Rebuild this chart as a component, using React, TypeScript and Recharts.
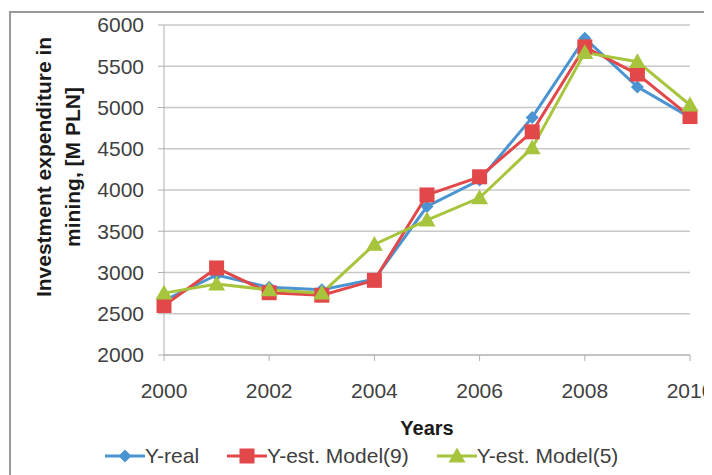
import { CartesianGrid, Label, Legend, Line, LineChart, XAxis, YAxis } from 'recharts';

const years = [2000, 2001, 2002, 2003, 2004, 2005, 2006, 2007, 2008, 2009, 2010];
const yReal = [2660, 2970, 2820, 2790, 2920, 3800, 4120, 4880, 5840, 5250, 4880];
const yModel9 = [2600, 3055, 2755, 2725, 2905, 3940, 4160, 4705, 5735, 5405, 4890];
const yModel5 = [2750, 2860, 2790, 2750, 3340, 3635, 3905, 4510, 5665, 5555, 5030];
const xTicks = [2000, 2002, 2004, 2006, 2008, 2010];
const yTicks = [2000, 2500, 3000, 3500, 4000, 4500, 5000, 5500, 6000];

const BLUE = '#4a94d2';
const RED = '#e2474a';
const GREEN = '#a6c53c';
const FONT = '"Liberation Sans Narrow", "Liberation Sans", sans-serif';

const data = years.map((year, i) => ({
  year,
  real: yReal[i],
  m9: yModel9[i],
  m5: yModel5[i],
}));

type DotProps = { cx?: number; cy?: number; index?: number };

function Diamond({ cx = 0, cy = 0 }: DotProps) {
  const r = 6.5;
  return <path d={`M${cx},${cy - r}L${cx + r},${cy}L${cx},${cy + r}L${cx - r},${cy}Z`} fill={BLUE} />;
}

function Square({ cx = 0, cy = 0 }: DotProps) {
  const r = 7.5;
  return <rect x={cx - r} y={cy - r} width={r * 2} height={r * 2} fill={RED} />;
}

function Triangle({ cx = 0, cy = 0 }: DotProps) {
  const r = 8.5;
  return <path d={`M${cx},${cy - r}L${cx + r},${cy + r * 0.75}L${cx - r},${cy + r * 0.75}Z`} fill={GREEN} />;
}

const legendItems = [
  { name: 'Y-real', color: BLUE, Marker: Diamond },
  { name: 'Y-est. Model(9)', color: RED, Marker: Square },
  { name: 'Y-est. Model(5)', color: GREEN, Marker: Triangle },
];

function ChartLegend() {
  return (
    <div style={{ display: 'flex', height: 24, alignItems: 'center', paddingLeft: 105, fontFamily: FONT, fontSize: 21, color: '#404040' }}>
      {legendItems.map(({ name, color, Marker }) => (
        <div key={name} style={{ display: 'flex', alignItems: 'center', marginRight: 28 }}>
          <svg width={40} height={20}>
            <line x1={0} y1={10} x2={40} y2={10} stroke={color} strokeWidth={3} />
            <Marker cx={20} cy={10} />
          </svg>
          <span>{name}</span>
        </div>
      ))}
    </div>
  );
}

function YTitle() {
  const cx = 58;
  const cy = 167;
  return (
    <text
      transform={`rotate(-90, ${cx}, ${cy})`}
      x={cx}
      y={cy}
      textAnchor="middle"
      fontFamily='"Liberation Sans", sans-serif'
      fontWeight="bold"
      fontSize={21}
      fill="#1a1a1a"
    >
      <tspan x={cx} dy={-7}>Investment expenditure in</tspan>
      <tspan x={cx} dy={29}>mining, [M PLN]</tspan>
    </text>
  );
}

export default function App() {
  return (
    <div style={{ position: 'relative', width: 712, height: 475, margin: '-8px 0 0 -8px', background: '#fff', overflow: 'hidden' }}>
      <div style={{ position: 'absolute', left: 9, top: 11, width: 800, height: 600, border: '2px solid #9a9a9a' }} />
      <LineChart
        width={712}
        height={475}
        data={data}
        margin={{ top: 25, right: 22, left: 0, bottom: 7 }}
        style={{ position: 'absolute', left: 0, top: 0 }}
      >
        <CartesianGrid vertical={false} stroke="#c8c8c8" strokeWidth={1.5} />
        <XAxis
          dataKey="year"
          type="number"
          domain={[2000, 2010]}
          ticks={xTicks}
          height={89}
          stroke="#b0b0b0"
          tickSize={6}
          tickMargin={22}
          tick={{ fill: '#404040', fontSize: 21, fontFamily: FONT }}
        >
          <Label
            value="Years"
            position="insideTop"
            offset={66}
            style={{ fontFamily: '"Liberation Sans", sans-serif', fontWeight: 'bold', fontSize: 20, fill: '#1a1a1a' }}
          />
        </XAxis>
        <YAxis
          domain={[2000, 6000]}
          ticks={yTicks}
          width={164}
          stroke="#b0b0b0"
          tickSize={6}
          tickMargin={14}
          tick={{ fill: '#404040', fontSize: 21, fontFamily: FONT }}
        >
          <Label content={<YTitle />} />
        </YAxis>
        <Legend verticalAlign="bottom" content={<ChartLegend />} />
        <Line dataKey="real" stroke={BLUE} strokeWidth={3} dot={<Diamond />} isAnimationActive={false} />
        <Line dataKey="m9" stroke={RED} strokeWidth={3} dot={<Square />} isAnimationActive={false} />
        <Line dataKey="m5" stroke={GREEN} strokeWidth={3} dot={<Triangle />} isAnimationActive={false} />
      </LineChart>
    </div>
  );
}
